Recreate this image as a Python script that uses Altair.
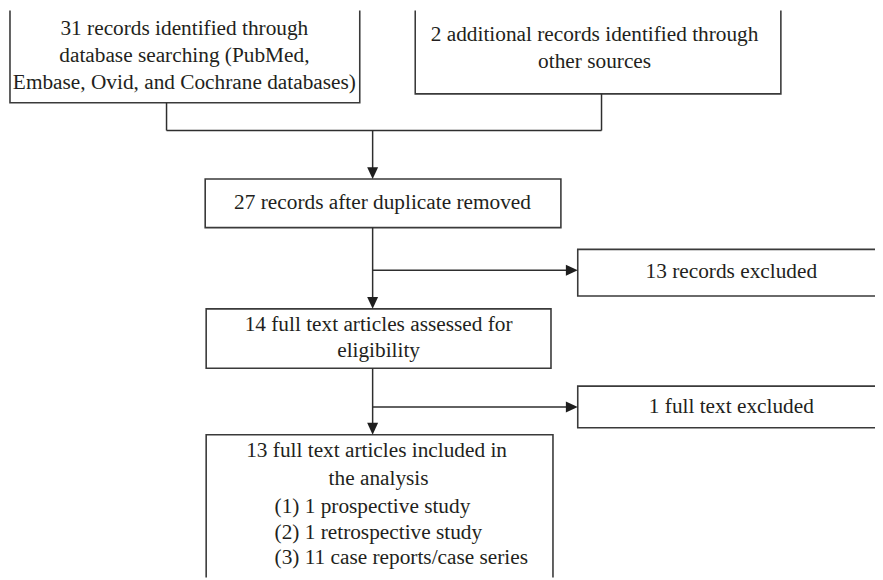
import altair as alt
import pandas as pd

# ---- boxes (reference pixel coordinates used as data units) ----
box_names = ["A", "B", "C", "D", "E", "F", "G"]
box_x0 = [10, 419, 207, 583, 208, 583, 208]
box_x1 = [363, 788, 566, 900, 556, 900, 558]
box_y0 = [6, 6, 178, 249, 309, 387, 436]
box_y1 = [101, 92, 227, 296, 369, 429, 600]

# ---- text lines ----
line_text = [
    "31 records identified through",
    "database searching (PubMed,",
    "Embase, Ovid, and Cochrane databases)",
    "2 additional records identified through",
    "other sources",
    "27 records after duplicate removed",
    "13 records excluded",
    "14 full text articles assessed for",
    "eligibility",
    "1 full text excluded",
    "13 full text articles included in",
    "the analysis",
    "(1) 1 prospective study",
    "(2) 1 retrospective study",
    "(3) 11 case reports/case series",
]
line_x = [186, 186, 186, 600, 600, 386, 738, 382, 382, 738, 380, 382, 277, 277, 277]
line_y = [27, 54, 81, 33, 60, 202, 272, 325, 352, 408, 453, 481, 509, 535, 560]
line_align = ["center"] * 12 + ["left"] * 3

# ---- connectors ----
seg_x = [168, 607, 168, 376, 376, 376, 376, 376]
seg_y = [101, 92, 129, 129, 227, 270, 369, 408]
seg_x2 = [168, 607, 607, 376, 376, 577, 376, 577]
seg_y2 = [129, 129, 129, 172, 303, 270, 430, 408]

# ---- arrow heads (tip positions) ----
arrow_x = [376, 376, 583, 376, 583]
arrow_y = [178, 309, 270, 436, 408]
arrow_dir = ["down", "down", "right", "down", "right"]

boxes = pd.DataFrame({"name": box_names, "x0": box_x0, "x1": box_x1,
                      "y0": box_y0, "y1": box_y1})
lines_c = pd.DataFrame({"t": line_text, "x": line_x, "y": line_y, "a": line_align})
segs = pd.DataFrame({"x": seg_x, "y": seg_y, "x2": seg_x2, "y2": seg_y2})
arrows = pd.DataFrame({"x": arrow_x, "y": arrow_y, "d": arrow_dir})

xs = alt.Scale(domain=[8, 883], nice=False, zero=False)
ys = alt.Scale(domain=[8, 580], nice=False, zero=False, reverse=True)

ink = "#2e2e2e"

rects = alt.Chart(boxes).mark_rect(fill="white", stroke="#3a3a3a", strokeWidth=1.6, clip=True).encode(
    x=alt.X("x0:Q", scale=xs, axis=None),
    x2="x1:Q",
    y=alt.Y("y0:Q", scale=ys, axis=None),
    y2="y1:Q",
)

rules = alt.Chart(segs).mark_rule(color=ink, strokeWidth=1.5).encode(
    x=alt.X("x:Q", scale=xs, axis=None),
    x2="x2:Q",
    y=alt.Y("y:Q", scale=ys, axis=None),
    y2="y2:Q",
)

down_path = "M-0.92,-2L0.92,-2L0,0Z"
right_path = "M-2,-0.92L-2,0.92L0,0Z"
heads = alt.Chart(arrows).mark_point(filled=True, color="#1e1e1e", size=144, opacity=1, strokeWidth=0).encode(
    x=alt.X("x:Q", scale=xs, axis=None),
    y=alt.Y("y:Q", scale=ys, axis=None),
    shape=alt.Shape("d:N", scale=alt.Scale(domain=["down", "right"], range=[down_path, right_path]), legend=None),
)

def text_layer(align):
    return alt.Chart(lines_c).transform_filter(alt.datum.a == align).mark_text(
        font="Liberation Serif", fontSize=21.5, color="#231f20", align=align, baseline="middle"
    ).encode(
        x=alt.X("x:Q", scale=xs, axis=None),
        y=alt.Y("y:Q", scale=ys, axis=None),
        text="t:N",
    )

chart = alt.layer(rects, rules, heads, text_layer("center"), text_layer("left")).properties(
    width=875, height=572, padding=0, autosize=alt.AutoSizeParams(type="none")
).configure(background="white", view=alt.ViewConfig(stroke=None))

chart.save("out.html", embed_options={"renderer": "svg", "actions": False})
